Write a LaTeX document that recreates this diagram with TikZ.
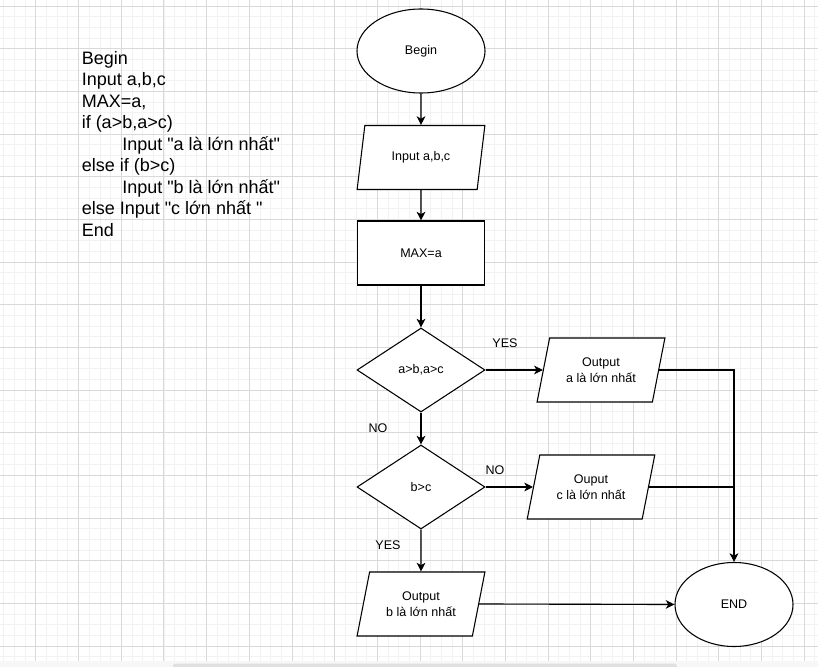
\documentclass[tikz,border=0pt]{standalone}
\usepackage{fontspec}
\setmainfont{Liberation Sans}[Ligatures=TeXOff]
\usetikzlibrary{shapes.geometric,arrows.meta}

\begin{document}
\begin{tikzpicture}[x=0.75pt,y=-0.75pt,
  minorline/.style={draw=black!5,line width=0.75pt},
  majorline/.style={draw=black!15,line width=0.75pt},
  shapeline/.style={draw=black,line width=0.8pt},
  boxfont/.style={font=\fontsize{9.4}{11.8}\selectfont},
  terminal/.style={shapeline,ellipse,minimum height=63pt,inner sep=0pt,fill=white,boxfont},
  process/.style={shapeline,rectangle,minimum width=95.25pt,minimum height=48pt,inner sep=0pt,fill=white,boxfont},
  decision/.style={shapeline,diamond,minimum width=96pt,minimum height=63pt,inner sep=0pt,fill=white,boxfont},
  iobox/.style={shapeline,trapezium,trapezium stretches=true,trapezium left angle=71,trapezium right angle=109,
    minimum width=96pt,minimum height=48pt,inner sep=0pt,fill=white,boxfont,align=center},
  flow/.style={line width=0.85pt,-{Stealth[length=6.5pt,width=6.5pt,inset=1.8pt]}},
  link/.style={line width=0.85pt},
  edgelabel/.style={boxfont,inner sep=0pt},
  codeline/.style={anchor=base west,inner sep=0pt,font=\fontsize{13.5}{16}\selectfont}
]
\useasboundingbox (0,0) rectangle (818,667);

% background grid
\fill[white] (0,0) rectangle (818,660.7);
\begin{scope}
  \clip (0,0) rectangle (818,660.7);
  \foreach \i in {0,...,78} {\draw[minorline] ({-6.67+\i*10.667},0) -- ++(0,660.7);}
  \foreach \j in {0,...,62} {\draw[minorline] (0,{-4.37+\j*10.667}) -- ++(818,0);}
  \foreach \k in {0,...,19} {\draw[majorline] ({-6.67+\k*42.667},0) -- ++(0,660.7);}
  \foreach \k in {0,...,15} {\draw[majorline] (0,{6.3+\k*42.667}) -- ++(818,0);}
\end{scope}
% window strip and scrollbar
\fill[black!3] (0,660.7) rectangle (818,667);
\fill[black!12,rounded corners=2pt] (173,663.5) rectangle (677,670);

% pseudo code
\node[codeline] (c1) at (81.5,64.3) {Begin};
\node[codeline] (c2) at (81.5,85.8) {Input a,b,c};
\node[codeline] (c3) at (81.5,107.3) {MAX=a,};
\node[codeline] (c4) at (81.5,128.8) {if (a>b,a>c)};
\node[codeline] (c5) at (122,150.3) {Input "a là lớn nhất"};
\node[codeline] (c6) at (81.5,171.8) {else if (b>c)};
\node[codeline] (c7) at (122,193.3) {Input "b là lớn nhất"};
\node[codeline] (c8) at (81.5,214.8) {else Input "c lớn nhất "};
\node[codeline] (c9) at (81.5,236.3) {End};

% flowchart nodes
\node[terminal,minimum width=96pt] (begin) at (421,51) {Begin};
\node[iobox] (inp) at (421,157.5) {Input a,b,c};
\node[process] (maxa) at (421,253) {MAX=a};
\node[decision] (d1) at (421,370) {a>b,a>c};
\node[iobox] (outa) at (601,370) {Output\\a là lớn nhất};
\node[decision] (d2) at (421,487) {b>c};
\node[iobox] (outc) at (591,487) {Ouput\\c là lớn nhất};
\node[iobox] (outb) at (421,604) {Output\\b là lớn nhất};
\node[terminal,minimum width=88.5pt] (end) at (734,604.5) {END};

% connectors
\draw[flow] (begin) -- (inp);
\draw[flow] (inp) -- (maxa);
\draw[flow] (maxa) -- (d1);
\draw[flow] (d1.east) -- (outa.left side);
\draw[flow] (d1) -- (d2);
\draw[flow] (d2.east) -- (outc.left side);
\draw[flow] (d2) -- (outb);
\draw[flow] (outb.right side) -- (end.west);
\draw[flow] (outa.right side) -| (end.north);
\draw[link] (outc.right side) -- (outc.right side -| end.north);

% branch labels
\node[edgelabel] (yes1) at (505,343) {YES};
\node[edgelabel] (no1) at (378,428) {NO};
\node[edgelabel] (no2) at (495,470) {NO};
\node[edgelabel] (yes2) at (388,545) {YES};
\end{tikzpicture}
\end{document}
